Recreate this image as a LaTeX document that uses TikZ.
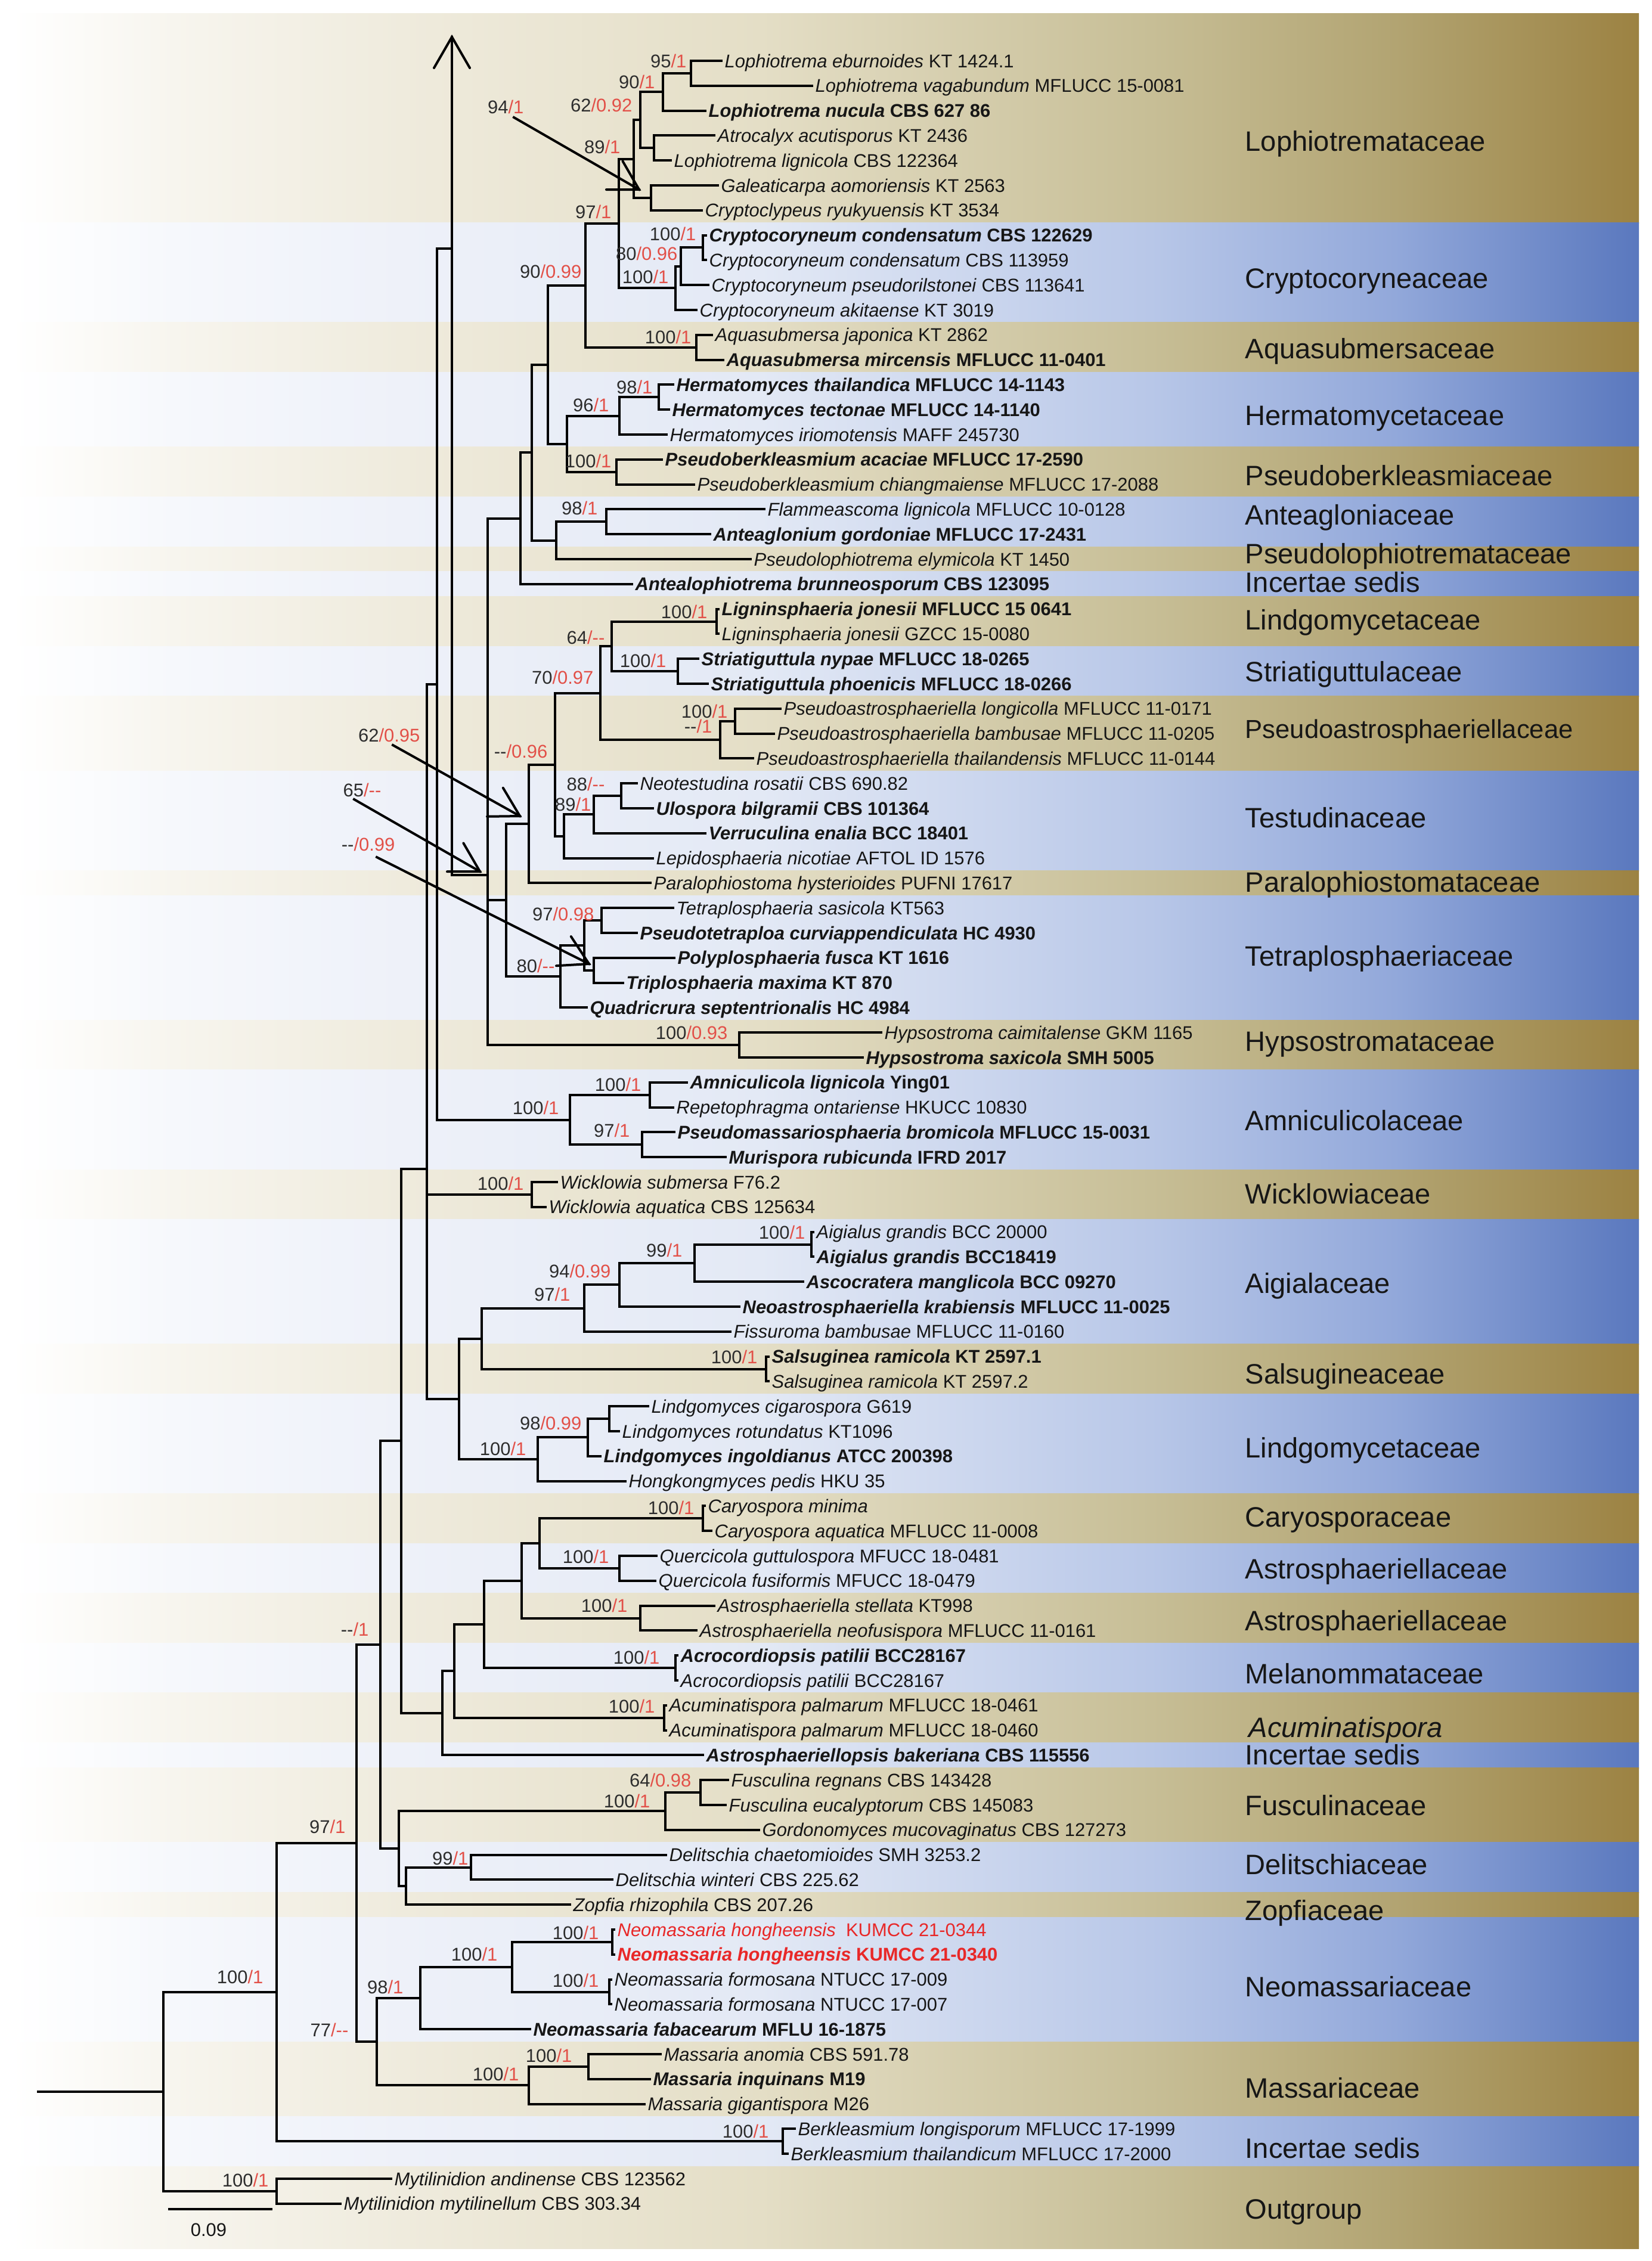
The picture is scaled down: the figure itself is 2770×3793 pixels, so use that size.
\documentclass[tikz,border=0pt]{standalone}
\usepackage{fontspec}
\setmainfont{Liberation Sans}
\usetikzlibrary{calc}
\definecolor{supred}{RGB}{226,80,72}
\definecolor{supblk}{RGB}{45,45,45}
\definecolor{redtax}{RGB}{232,40,40}
\definecolor{txt}{RGB}{22,22,22}
\definecolor{tanA}{RGB}{247,245,238}
\definecolor{tanB}{RGB}{239,235,221}
\definecolor{tanC}{RGB}{228,222,198}
\definecolor{tanD}{RGB}{199,190,150}
\definecolor{tanE}{RGB}{178,164,114}
\definecolor{tanF}{RGB}{156,130,66}
\definecolor{bluA}{RGB}{246,248,252}
\definecolor{bluB}{RGB}{238,241,249}
\definecolor{bluC}{RGB}{227,233,245}
\definecolor{bluD}{RGB}{184,199,232}
\definecolor{bluE}{RGB}{146,168,218}
\definecolor{bluF}{RGB}{90,120,190}
\pgfdeclarehorizontalshading{tanshade}{100bp}{color(0bp)=(white); color(25bp)=(white); color(30bp)=(tanA); color(37bp)=(tanB); color(48bp)=(tanC); color(60bp)=(tanD); color(67.5bp)=(tanE); color(75bp)=(tanF); color(100bp)=(tanF)}
\pgfdeclarehorizontalshading{blushade}{100bp}{color(0bp)=(white); color(25bp)=(white); color(30bp)=(bluA); color(37bp)=(bluB); color(48bp)=(bluC); color(60bp)=(bluD); color(67.5bp)=(bluE); color(75bp)=(bluF); color(100bp)=(bluF)}
\newcommand\ti[2]{\textit{#1} #2}
\newcommand\tb[2]{\textbf{\textit{#1} #2}}
\newcommand\dd{-\kern0pt-}
\newcommand\sv[2]{{\color{supblk}#1}{\color{supred}/#2}}
\newcommand\bn[5]{\draw[br] (#2,#3) -- (#1,#3) -- (#1,#5) -- (#4,#5);}
\newcommand\ahead[3]{\draw[br,line cap=round] ($(#1)!#3!30:(#2)$) -- (#1) -- ($(#1)!#3!-30:(#2)$);}
\tikzset{
  br/.style={line width=0.4mm, black, line cap=rect, line join=miter},
  tax/.style={font=\fontsize{8.8}{10}\selectfont, anchor=west, inner sep=0pt, text height=6.3pt, text depth=0pt, text=txt},
  sup/.style={font=\fontsize{8.8}{10}\selectfont, anchor=south east, inner sep=0pt, text depth=0pt},
  fam/.style={font=\fontsize{13.4}{16}\selectfont, anchor=west, inner sep=0pt, text height=9.6pt, text depth=0pt, text=txt},
  tanband/.style={shading=tanshade},
  bluband/.style={shading=blushade}
}
\begin{document}
\begin{tikzpicture}[x=0.1mm,y=-0.1mm]
\useasboundingbox (0,0) rectangle (2770,3793);
% ---------- background bands ----------
\shade[tanband] (20,23) rectangle (2749,374.5);
\shade[bluband] (20,373.7) rectangle (2749,541.7);
\shade[tanband] (20,540.9) rectangle (2749,625.3);
\shade[bluband] (20,624.5) rectangle (2749,750.7);
\shade[tanband] (20,749.9) rectangle (2749,834.3);
\shade[bluband] (20,833.5) rectangle (2749,917.9);
\shade[tanband] (20,917.1) rectangle (2749,959.7);
\shade[bluband] (20,958.9) rectangle (2749,1001.5);
\shade[tanband] (20,1000.7) rectangle (2749,1085.1);
\shade[bluband] (20,1084.3) rectangle (2749,1168.7);
\shade[tanband] (20,1167.9) rectangle (2749,1294.1);
\shade[bluband] (20,1293.3) rectangle (2749,1461.3);
\shade[tanband] (20,1460.5) rectangle (2749,1503.1);
\shade[bluband] (20,1502.3) rectangle (2749,1712.1);
\shade[tanband] (20,1711.3) rectangle (2749,1795.7);
\shade[bluband] (20,1794.9) rectangle (2749,1962.9);
\shade[tanband] (20,1962.1) rectangle (2749,2046.5);
\shade[bluband] (20,2045.7) rectangle (2749,2255.5);
\shade[tanband] (20,2254.7) rectangle (2749,2339.1);
\shade[bluband] (20,2338.3) rectangle (2749,2506.3);
\shade[tanband] (20,2505.5) rectangle (2749,2589.9);
\shade[bluband] (20,2589.1) rectangle (2749,2673.5);
\shade[tanband] (20,2672.7) rectangle (2749,2757.1);
\shade[bluband] (20,2756.3) rectangle (2749,2840.7);
\shade[tanband] (20,2839.9) rectangle (2749,2924.3);
\shade[bluband] (20,2923.5) rectangle (2749,2966.1);
\shade[tanband] (20,2965.3) rectangle (2749,3091.5);
\shade[bluband] (20,3090.7) rectangle (2749,3175.1);
\shade[tanband] (20,3174.3) rectangle (2749,3216.9);
\shade[bluband] (20,3216.1) rectangle (2749,3425.9);
\shade[tanband] (20,3425.1) rectangle (2749,3551.3);
\shade[bluband] (20,3550.5) rectangle (2749,3634.9);
\shade[tanband] (20,3634.1) rectangle (2749,3772);
% ---------- family labels ----------
\node[fam] (f1) at (2088,237) {Lophiotremataceae};
\node[fam] (f2) at (2088,467) {Cryptocoryneaceae};
\node[fam] (f3) at (2088,585) {Aquasubmersaceae};
\node[fam] (f4) at (2088,697) {Hermatomycetaceae};
\node[fam] (f5) at (2088,798) {Pseudoberkleasmiaceae};
\node[fam] (f6) at (2088,864) {Anteagloniaceae};
\node[fam] (f7) at (2088,929) {Pseudolophiotremataceae};
\node[fam] (f8) at (2088,977) {Incertae sedis};
\node[fam] (f9) at (2088,1040) {Lindgomycetaceae};
\node[fam] (f10) at (2088,1127) {Striatiguttulaceae};
\node[fam, font=\fontsize{12.4}{15}\selectfont] (f11) at (2088,1222) {Pseudoastrosphaeriellaceae};
\node[fam] (f12) at (2088,1372) {Testudinaceae};
\node[fam] (f13) at (2088,1480) {Paralophiostomataceae};
\node[fam] (f14) at (2088,1604) {Tetraplosphaeriaceae};
\node[fam] (f15) at (2088,1747) {Hypsostromataceae};
\node[fam] (f16) at (2088,1880) {Amniculicolaceae};
\node[fam] (f17) at (2088,2003) {Wicklowiaceae};
\node[fam] (f18) at (2088,2153) {Aigialaceae};
\node[fam] (f19) at (2088,2305) {Salsugineaceae};
\node[fam] (f20) at (2088,2429) {Lindgomycetaceae};
\node[fam] (f21) at (2088,2545) {Caryosporaceae};
\node[fam] (f22) at (2088,2632) {Astrosphaeriellaceae};
\node[fam] (f23) at (2088,2719) {Astrosphaeriellaceae};
\node[fam] (f24) at (2088,2808) {Melanommataceae};
\node[fam] (f25) at (2094,2898) {\textit{Acuminatispora}};
\node[fam] (f26) at (2088,2944) {Incertae sedis};
\node[fam] (f27) at (2088,3029) {Fusculinaceae};
\node[fam] (f28) at (2088,3128) {Delitschiaceae};
\node[fam] (f29) at (2088,3205) {Zopfiaceae};
\node[fam] (f30) at (2088,3333) {Neomassariaceae};
\node[fam] (f31) at (2088,3503) {Massariaceae};
\node[fam] (f32) at (2088,3604) {Incertae sedis};
\node[fam] (f33) at (2088,3706) {Outgroup};
% ---------- tree: upper clade ----------
\bn{1159}{1210}{102}{1362}{143.8}
\bn{1112}{1159}{122.9}{1183}{185.6}
\bn{1097}{1198}{227.4}{1125}{269.2}
\bn{1074}{1112}{154.25}{1097}{248.3}
\bn{1092}{1204}{311}{1177}{352.8}
\bn{1063}{1074}{201.3}{1092}{331.9}
\bn{1179}{1184}{394.6}{1184}{436.4}
\bn{1142}{1179}{415.5}{1188}{478.2}
\bn{1133}{1142}{446.85}{1168}{520}
\bn{1038}{1063}{266.6}{1133}{483.4}
\bn{1168}{1194}{561.8}{1213}{603.6}
\bn{982}{1038}{375}{1168}{582.7}
\bn{1105}{1129}{645.4}{1122}{687.2}
\bn{1039}{1105}{666.3}{1118}{729}
\bn{1034}{1110}{770.8}{1164}{812.6}
\bn{951}{1039}{697.65}{1034}{791.7}
\bn{919}{982}{478.85}{951}{744.7}
\bn{1017}{1282}{854.4}{1191}{896.2}
\bn{933}{1017}{875.3}{1259}{938}
\bn{892}{919}{611.8}{933}{906.65}
\bn{873}{892}{759.2}{1060}{979.8}
% ---------- middle clade ----------
\bn{1202}{1205}{1021.6}{1205}{1063.4}
\bn{1137}{1171}{1105.2}{1187}{1147}
\bn{1026}{1202}{1042.5}{1137}{1126.1}
\bn{1233}{1309}{1188.8}{1298}{1230.6}
\bn{1208}{1233}{1209.7}{1263}{1272.4}
\bn{1007}{1026}{1084.3}{1208}{1241.05}
\bn{1042}{1068}{1314.2}{1095}{1356}
\bn{996}{1042}{1335.1}{1183}{1397.8}
\bn{946}{996}{1366.45}{1095}{1439.6}
\bn{931}{1007}{1162.7}{946}{1403}
\bn{887}{931}{1282.85}{1091}{1481.4}
\bn{1009}{1129}{1523.2}{1068}{1565}
\bn{996}{1131}{1606.8}{1045}{1648.6}
\bn{980}{1009}{1544.1}{996}{1627.7}
\bn{940}{980}{1585.9}{984}{1690.4}
\bn{849}{887}{1382.1}{940}{1638.15}
\bn{1240}{1478}{1732.2}{1447}{1774}
\draw[br] (873,869.5) -- (818,869.5) -- (818,1753.1) -- (1240,1753.1);
\draw[br] (818,1510.1) -- (849,1510.1);
\draw[br] (818,1468) -- (758,1468);
\coordinate (bigtip) at (758,62);
\coordinate (bigbase) at (758,1468);
\draw[br] (bigbase) -- (bigtip);
\ahead{bigtip}{bigbase}{6mm}
\draw[br] (758,417) -- (733,417) -- (733,1878.5) -- (956,1878.5);
\bn{1090}{1152}{1815.8}{1129}{1857.6}
\bn{1077}{1131}{1899.4}{1217}{1941.2}
\bn{956}{1090}{1836.7}{1077}{1920.3}
\bn{892}{934}{1983}{915}{2024.8}
\bn{1361}{1364}{2066.6}{1364}{2108.4}
\bn{1165}{1361}{2087.5}{1347}{2150.2}
\bn{1039}{1165}{2118.85}{1240}{2192}
\bn{980}{1039}{2155.4}{1225}{2233.8}
\bn{1285}{1289}{2275.6}{1289}{2317.4}
\bn{808}{980}{2194.6}{1285}{2296.5}
\bn{1022}{1087}{2359.2}{1038}{2401}
\bn{986}{1022}{2380.1}{1007}{2442.8}
\bn{902}{986}{2411.45}{1049}{2484.6}
\bn{770}{808}{2245.55}{902}{2448}
\draw[br] (733,1147.75) -- (716,1147.75) -- (716,2346.8) -- (770,2346.8);
\draw[br] (716,2003.9) -- (892,2003.9);
% ---------- lower clade ----------
\bn{1179}{1182}{2526.4}{1193}{2568.2}
\bn{1039}{1101}{2610}{1099}{2651.8}
\bn{905}{1179}{2547.3}{1039}{2630.9}
\bn{1074}{1198}{2693.6}{1168}{2735.4}
\bn{875}{905}{2589.1}{1074}{2714.5}
\bn{1133}{1136}{2777.2}{1136}{2819}
\bn{812}{875}{2651.8}{1133}{2798.1}
\bn{1114}{1117}{2860.8}{1117}{2902.6}
\bn{762}{812}{2724.95}{1114}{2881.7}
\bn{742}{762}{2803.3}{1179}{2944.4}
\bn{673}{716}{1961}{742}{2873.85}
\bn{1175}{1221}{2986.2}{1217}{3028}
\bn{1116}{1175}{3007.1}{1273}{3069.8}
\bn{790}{1117}{3111.6}{1027}{3153.4}
\bn{681}{790}{3132.5}{956}{3195.2}
\bn{669}{1116}{3038.45}{681}{3163.85}
\bn{638}{673}{2417.4}{669}{3101.15}
\bn{1027}{1030}{3237}{1030}{3278.8}
\bn{1022}{1025}{3320.6}{1025}{3362.4}
\bn{859}{1027}{3257.9}{1022}{3341.5}
\bn{705}{859}{3299.7}{889}{3404.2}
\bn{987}{1108}{3446}{1090}{3487.8}
\bn{887}{987}{3466.9}{1081}{3529.6}
\bn{632}{705}{3351.95}{887}{3498.25}
\bn{598}{638}{2759.3}{632}{3425.1}
\bn{1313}{1333}{3571.4}{1321}{3613.2}
\bn{464}{598}{3092.2}{1313}{3592.3}
\bn{464}{656}{3655}{571}{3696.8}
\bn{274}{464}{3342.25}{464}{3675.9}
\draw[br] (64,3509.1) -- (274,3509.1);
% scale bar
\draw[br] (284,3706) -- (455,3706);
\node[font=\fontsize{8.8}{10}\selectfont, text=txt, inner sep=0pt] (scale) at (350,3741) {0.09};
% ---------- taxa ----------
\node[tax] (t1) at (1215,102) {\ti{Lophiotrema eburnoides}{KT 1424.1}};
\node[tax] (t2) at (1367,143.8) {\ti{Lophiotrema vagabundum}{MFLUCC 15-0081}};
\node[tax] (t3) at (1188,185.6) {\tb{Lophiotrema nucula}{CBS 627 86}};
\node[tax] (t4) at (1203,227.4) {\ti{Atrocalyx acutisporus}{KT 2436}};
\node[tax] (t5) at (1130,269.2) {\ti{Lophiotrema lignicola}{CBS 122364}};
\node[tax] (t6) at (1209,311) {\ti{Galeaticarpa aomoriensis}{KT 2563}};
\node[tax] (t7) at (1182,352.8) {\ti{Cryptoclypeus ryukyuensis}{KT 3534}};
\node[tax] (t8) at (1189,394.6) {\tb{Cryptocoryneum condensatum}{CBS 122629}};
\node[tax] (t9) at (1189,436.4) {\ti{Cryptocoryneum condensatum}{CBS 113959}};
\node[tax] (t10) at (1193,478.2) {\ti{Cryptocoryneum pseudorilstonei}{CBS 113641}};
\node[tax] (t11) at (1173,520) {\ti{Cryptocoryneum akitaense}{KT 3019}};
\node[tax] (t12) at (1199,561.8) {\ti{Aquasubmersa japonica}{KT 2862}};
\node[tax] (t13) at (1218,603.6) {\tb{Aquasubmersa mircensis}{MFLUCC 11-0401}};
\node[tax] (t14) at (1134,645.4) {\tb{Hermatomyces thailandica}{MFLUCC 14-1143}};
\node[tax] (t15) at (1127,687.2) {\tb{Hermatomyces tectonae}{MFLUCC 14-1140}};
\node[tax] (t16) at (1123,729) {\ti{Hermatomyces iriomotensis}{MAFF 245730}};
\node[tax] (t17) at (1115,770.8) {\tb{Pseudoberkleasmium acaciae}{MFLUCC 17-2590}};
\node[tax] (t18) at (1169,812.6) {\ti{Pseudoberkleasmium chiangmaiense}{MFLUCC 17-2088}};
\node[tax] (t19) at (1287,854.4) {\ti{Flammeascoma lignicola}{MFLUCC 10-0128}};
\node[tax] (t20) at (1196,896.2) {\tb{Anteaglonium gordoniae}{MFLUCC 17-2431}};
\node[tax] (t21) at (1264,938) {\ti{Pseudolophiotrema elymicola}{KT 1450}};
\node[tax] (t22) at (1065,979.8) {\tb{Antealophiotrema brunneosporum}{CBS 123095}};
\node[tax] (t23) at (1210,1021.6) {\tb{Ligninsphaeria jonesii}{MFLUCC 15 0641}};
\node[tax] (t24) at (1210,1063.4) {\ti{Ligninsphaeria jonesii}{GZCC 15-0080}};
\node[tax] (t25) at (1176,1105.2) {\tb{Striatiguttula nypae}{MFLUCC 18-0265}};
\node[tax] (t26) at (1192,1147) {\tb{Striatiguttula phoenicis}{MFLUCC 18-0266}};
\node[tax] (t27) at (1314,1188.8) {\ti{Pseudoastrosphaeriella longicolla}{MFLUCC 11-0171}};
\node[tax] (t28) at (1303,1230.6) {\ti{Pseudoastrosphaeriella bambusae}{MFLUCC 11-0205}};
\node[tax] (t29) at (1268,1272.4) {\ti{Pseudoastrosphaeriella thailandensis}{MFLUCC 11-0144}};
\node[tax] (t30) at (1073,1314.2) {\ti{Neotestudina rosatii}{CBS 690.82}};
\node[tax] (t31) at (1100,1356) {\tb{Ulospora bilgramii}{CBS 101364}};
\node[tax] (t32) at (1188,1397.8) {\tb{Verruculina enalia}{BCC 18401}};
\node[tax] (t33) at (1100,1439.6) {\ti{Lepidosphaeria nicotiae}{AFTOL ID 1576}};
\node[tax] (t34) at (1096,1481.4) {\ti{Paralophiostoma hysterioides}{PUFNI 17617}};
\node[tax] (t35) at (1134,1523.2) {\ti{Tetraplosphaeria sasicola}{KT563}};
\node[tax] (t36) at (1073,1565) {\tb{Pseudotetraploa curviappendiculata}{HC 4930}};
\node[tax] (t37) at (1136,1606.8) {\tb{Polyplosphaeria fusca}{KT 1616}};
\node[tax] (t38) at (1050,1648.6) {\tb{Triplosphaeria maxima}{KT 870}};
\node[tax] (t39) at (989,1690.4) {\tb{Quadricrura septentrionalis}{HC 4984}};
\node[tax] (t40) at (1483,1732.2) {\ti{Hypsostroma caimitalense}{GKM 1165}};
\node[tax] (t41) at (1452,1774) {\tb{Hypsostroma saxicola}{SMH 5005}};
\node[tax] (t42) at (1157,1815.8) {\tb{Amniculicola lignicola}{Ying01}};
\node[tax] (t43) at (1134,1857.6) {\ti{Repetophragma ontariense}{HKUCC 10830}};
\node[tax] (t44) at (1136,1899.4) {\tb{Pseudomassariosphaeria bromicola}{MFLUCC 15-0031}};
\node[tax] (t45) at (1222,1941.2) {\tb{Murispora rubicunda}{IFRD 2017}};
\node[tax] (t46) at (939,1983) {\ti{Wicklowia submersa}{F76.2}};
\node[tax] (t47) at (920,2024.8) {\ti{Wicklowia aquatica}{CBS 125634}};
\node[tax] (t48) at (1369,2066.6) {\ti{Aigialus grandis}{BCC 20000}};
\node[tax] (t49) at (1369,2108.4) {\tb{Aigialus grandis}{BCC18419}};
\node[tax] (t50) at (1352,2150.2) {\tb{Ascocratera manglicola}{BCC 09270}};
\node[tax] (t51) at (1245,2192) {\tb{Neoastrosphaeriella krabiensis}{MFLUCC 11-0025}};
\node[tax] (t52) at (1230,2233.8) {\ti{Fissuroma bambusae}{MFLUCC 11-0160}};
\node[tax] (t53) at (1294,2275.6) {\tb{Salsuginea ramicola}{KT 2597.1}};
\node[tax] (t54) at (1294,2317.4) {\ti{Salsuginea ramicola}{KT 2597.2}};
\node[tax] (t55) at (1092,2359.2) {\ti{Lindgomyces cigarospora}{G619}};
\node[tax] (t56) at (1043,2401) {\ti{Lindgomyces rotundatus}{KT1096}};
\node[tax] (t57) at (1012,2442.8) {\tb{Lindgomyces ingoldianus}{ATCC 200398}};
\node[tax] (t58) at (1054,2484.6) {\ti{Hongkongmyces pedis}{HKU 35}};
\node[tax] (t59) at (1187,2526.4) {\textit{Caryospora minima}};
\node[tax] (t60) at (1198,2568.2) {\ti{Caryospora aquatica}{MFLUCC 11-0008}};
\node[tax] (t61) at (1106,2610) {\ti{Quercicola guttulospora}{MFUCC 18-0481}};
\node[tax] (t62) at (1104,2651.8) {\ti{Quercicola fusiformis}{MFUCC 18-0479}};
\node[tax] (t63) at (1203,2693.6) {\ti{Astrosphaeriella stellata}{KT998}};
\node[tax] (t64) at (1173,2735.4) {\ti{Astrosphaeriella neofusispora}{MFLUCC 11-0161}};
\node[tax] (t65) at (1141,2777.2) {\tb{Acrocordiopsis patilii}{BCC28167}};
\node[tax] (t66) at (1141,2819) {\ti{Acrocordiopsis patilii}{BCC28167}};
\node[tax] (t67) at (1122,2860.8) {\ti{Acuminatispora palmarum}{MFLUCC 18-0461}};
\node[tax] (t68) at (1122,2902.6) {\ti{Acuminatispora palmarum}{MFLUCC 18-0460}};
\node[tax] (t69) at (1184,2944.4) {\tb{Astrosphaeriellopsis bakeriana}{CBS 115556}};
\node[tax] (t70) at (1226,2986.2) {\ti{Fusculina regnans}{CBS 143428}};
\node[tax] (t71) at (1222,3028) {\ti{Fusculina eucalyptorum}{CBS 145083}};
\node[tax] (t72) at (1278,3069.8) {\ti{Gordonomyces mucovaginatus}{CBS 127273}};
\node[tax] (t73) at (1122,3111.6) {\ti{Delitschia chaetomioides}{SMH 3253.2}};
\node[tax] (t74) at (1032,3153.4) {\ti{Delitschia winteri}{CBS 225.62}};
\node[tax] (t75) at (961,3195.2) {\ti{Zopfia rhizophila}{CBS 207.26}};
\node[tax, text=redtax] (t76) at (1035,3237) {\ti{Neomassaria hongheensis}{\ KUMCC 21-0344}};
\node[tax, text=redtax] (t77) at (1035,3278.8) {\tb{Neomassaria hongheensis}{KUMCC 21-0340}};
\node[tax] (t78) at (1030,3320.6) {\ti{Neomassaria formosana}{NTUCC 17-009}};
\node[tax] (t79) at (1030,3362.4) {\ti{Neomassaria formosana}{NTUCC 17-007}};
\node[tax] (t80) at (894,3404.2) {\tb{Neomassaria fabacearum}{MFLU 16-1875}};
\node[tax] (t81) at (1113,3446) {\ti{Massaria anomia}{CBS 591.78}};
\node[tax] (t82) at (1095,3487.8) {\tb{Massaria inquinans}{M19}};
\node[tax] (t83) at (1086,3529.6) {\ti{Massaria gigantispora}{M26}};
\node[tax] (t84) at (1338,3571.4) {\ti{Berkleasmium longisporum}{MFLUCC 17-1999}};
\node[tax] (t85) at (1326,3613.2) {\ti{Berkleasmium thailandicum}{MFLUCC 17-2000}};
\node[tax] (t86) at (661,3655) {\ti{Mytilinidion andinense}{CBS 123562}};
\node[tax] (t87) at (576,3696.8) {\ti{Mytilinidion mytilinellum}{CBS 303.34}};
% ---------- support values ----------
\node[sup] (s1) at (1152,114) {\sv{95}{1}};
\node[sup] (s2) at (1099,149) {\sv{90}{1}};
\node[sup] (s3) at (1061,188) {\sv{62}{0.92}};
\node[sup] (s4) at (879,191) {\sv{94}{1}};
\node[sup] (s5) at (1041,258) {\sv{89}{1}};
\node[sup] (s6) at (1026,367) {\sv{97}{1}};
\node[sup] (s7) at (1168,404) {\sv{100}{1}};
\node[sup] (s8) at (1137,437) {\sv{80}{0.96}};
\node[sup] (s9) at (1122,476) {\sv{100}{1}};
\node[sup] (s10) at (976,467) {\sv{90}{0.99}};
\node[sup] (s11) at (1160,577) {\sv{100}{1}};
\node[sup] (s12) at (1095,661) {\sv{98}{1}};
\node[sup] (s13) at (1022,691) {\sv{96}{1}};
\node[sup] (s14) at (1026,785) {\sv{100}{1}};
\node[sup] (s15) at (1003,864) {\sv{98}{1}};
\node[sup] (s16) at (1187,1038) {\sv{100}{1}};
\node[sup] (s17) at (1015,1081) {\sv{64}{\dd}};
\node[sup] (s18) at (1118,1120) {\sv{100}{1}};
\node[sup] (s19) at (996,1148) {\sv{70}{0.97}};
\node[sup] (s20) at (1221,1205) {\sv{100}{1}};
\node[sup] (s21) at (1195,1230) {\sv{\dd}{1}};
\node[sup] (s22) at (919,1272) {\sv{\dd}{0.96}};
\node[sup] (s23) at (1015,1327) {\sv{88}{\dd}};
\node[sup] (s24) at (992,1361) {\sv{89}{1}};
\node[sup] (s25) at (705,1245) {\sv{62}{0.95}};
\node[sup] (s26) at (640,1337) {\sv{65}{\dd}};
\node[sup] (s27) at (663,1428) {\sv{\dd}{0.99}};
\node[sup] (s28) at (997,1545) {\sv{97}{0.98}};
\node[sup] (s29) at (931,1632) {\sv{80}{\dd}};
\node[sup] (s30) at (1221,1744) {\sv{100}{0.93}};
\node[sup] (s31) at (1076,1831) {\sv{100}{1}};
\node[sup] (s32) at (938,1870) {\sv{100}{1}};
\node[sup] (s33) at (1057,1908) {\sv{97}{1}};
\node[sup] (s34) at (879,1997) {\sv{100}{1}};
\node[sup] (s35) at (1351,2079) {\sv{100}{1}};
\node[sup] (s36) at (1145,2109) {\sv{99}{1}};
\node[sup] (s37) at (1025,2144) {\sv{94}{0.99}};
\node[sup] (s38) at (957,2183) {\sv{97}{1}};
\node[sup] (s39) at (1271,2288) {\sv{100}{1}};
\node[sup] (s40) at (976,2399) {\sv{98}{0.99}};
\node[sup] (s41) at (883,2442) {\sv{100}{1}};
\node[sup] (s42) at (1165,2541) {\sv{100}{1}};
\node[sup] (s43) at (1022,2623) {\sv{100}{1}};
\node[sup] (s44) at (1053,2705) {\sv{100}{1}};
\node[sup] (s45) at (619,2745) {\sv{\dd}{1}};
\node[sup] (s46) at (1107,2792) {\sv{100}{1}};
\node[sup] (s47) at (1099,2874) {\sv{100}{1}};
\node[sup] (s48) at (1160,2998) {\sv{64}{0.98}};
\node[sup] (s49) at (1091,3033) {\sv{100}{1}};
\node[sup] (s50) at (580,3076) {\sv{97}{1}};
\node[sup] (s51) at (786,3129) {\sv{99}{1}};
\node[sup] (s52) at (1005,3254) {\sv{100}{1}};
\node[sup] (s53) at (835,3290) {\sv{100}{1}};
\node[sup] (s54) at (1005,3334) {\sv{100}{1}};
\node[sup] (s55) at (677,3345) {\sv{98}{1}};
\node[sup] (s56) at (585,3417) {\sv{77}{\dd}};
\node[sup] (s57) at (960,3460) {\sv{100}{1}};
\node[sup] (s58) at (871,3491) {\sv{100}{1}};
\node[sup] (s59) at (442,3328) {\sv{100}{1}};
\node[sup] (s60) at (1290,3587) {\sv{100}{1}};
\node[sup] (s61) at (451,3669) {\sv{100}{1}};
% ---------- pointer arrows ----------
\coordinate (a1tail) at (862,197);  \coordinate (a1tip) at (1072,318);
\coordinate (a2tail) at (659,1250); \coordinate (a2tip) at (872,1369);
\coordinate (a3tail) at (594,1341); \coordinate (a3tip) at (805,1462);
\coordinate (a4tail) at (632,1438); \coordinate (a4tip) at (988,1617);
\draw[br] (a1tail) -- (a1tip); \ahead{a1tip}{a1tail}{5.5mm}
\draw[br] (a2tail) -- (a2tip); \ahead{a2tip}{a2tail}{5.5mm}
\draw[br] (a3tail) -- (a3tip); \ahead{a3tip}{a3tail}{5.5mm}
\draw[br] (a4tail) -- (a4tip); \ahead{a4tip}{a4tail}{5.5mm}
\end{tikzpicture}
\end{document}
